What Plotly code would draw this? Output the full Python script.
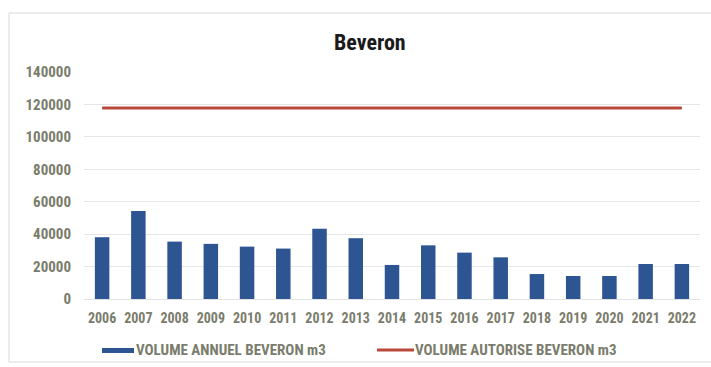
import plotly.graph_objects as go

# Annual volumes pumped at Beveron vs. authorised volume (m3)
years = ["2006", "2007", "2008", "2009", "2010", "2011", "2012", "2013", "2014",
         "2015", "2016", "2017", "2018", "2019", "2020", "2021", "2022"]
volume_annuel = [38100, 54300, 35400, 34000, 32300, 31100, 43400, 37500, 21000,
                 33100, 28600, 25700, 15400, 14200, 14200, 21600, 21600]
volume_autorise = [117800] * len(years)

name_annuel = "VOLUME ANNUEL BEVERON m3"
name_autorise = "VOLUME AUTORISE BEVERON m3"

BAR_COLOR = "#2C5592"
LINE_COLOR = "#B8493B"
TICK_COLOR = "#7A7C6C"
FONT = "Roboto Condensed, DejaVu Sans Condensed, Roboto, sans-serif"

W, H = 711, 367
ML, MR, MT, MB = 84, 11, 72, 68

fig = go.Figure()
fig.add_trace(go.Bar(x=years, y=volume_annuel, name=name_annuel,
                     marker=dict(color=BAR_COLOR, line=dict(width=0)),
                     showlegend=False))
fig.add_trace(go.Scatter(x=years, y=volume_autorise, name=name_autorise,
                         mode="lines", line=dict(color=LINE_COLOR, width=3),
                         showlegend=False))

pw = W - ML - MR
ph = H - MT - MB


def px_x(px):
    return (px - ML) / pw


def px_y(py):
    return (H - MB - py) / ph


shapes = [
    # outer chart frame
    dict(type="rect", xref="paper", yref="paper",
         x0=px_x(9), x1=px_x(712), y0=px_y(362), y1=px_y(13),
         line=dict(color="#D9D9D9", width=1), fillcolor="rgba(0,0,0,0)", layer="below"),
    # legend swatches
    dict(type="rect", xref="paper", yref="paper",
         x0=px_x(102), x1=px_x(134), y0=px_y(353), y1=px_y(348),
         line=dict(width=0), fillcolor=BAR_COLOR),
    dict(type="line", xref="paper", yref="paper",
         x0=px_x(377), x1=px_x(414), y0=px_y(350), y1=px_y(350),
         line=dict(color=LINE_COLOR, width=3)),
]

annotations = [
    dict(text="<b>Beveron</b>", xref="paper", yref="paper",
         x=px_x(370), y=px_y(42), xanchor="center", yanchor="middle", showarrow=False,
         font=dict(family=FONT, size=22, color="#1A1A1A")),
    dict(text="<b>" + name_annuel + "</b>", xref="paper", yref="paper",
         x=px_x(134), y=px_y(350), xanchor="left", yanchor="middle", showarrow=False,
         font=dict(family=FONT, size=15, color=TICK_COLOR)),
    dict(text="<b>" + name_autorise + "</b>", xref="paper", yref="paper",
         x=px_x(413), y=px_y(350), xanchor="left", yanchor="middle", showarrow=False,
         font=dict(family=FONT, size=15, color=TICK_COLOR)),
]

fig.update_layout(
    width=W, height=H,
    margin=dict(l=ML, r=MR, t=MT, b=MB),
    paper_bgcolor="white", plot_bgcolor="white",
    bargap=0.6,
    shapes=shapes, annotations=annotations,
    font=dict(family=FONT, size=11, color=TICK_COLOR),
)
fig.update_xaxes(type="category", showgrid=False, showline=True,
                 linecolor="#E3E3E3", linewidth=1, ticks="",
                 tickfont=dict(family=FONT, size=14, color=TICK_COLOR, weight="bold"),
                 ticklabelstandoff=6)
fig.update_yaxes(range=[0, 140000], dtick=20000, showgrid=True,
                 gridcolor="#E6E6E6", gridwidth=1, zeroline=False,
                 tickformat="d", ticks="",
                 tickfont=dict(family=FONT, size=15, color=TICK_COLOR, weight="bold"),
                 ticklabelstandoff=12)

fig.write_html("out.html")
